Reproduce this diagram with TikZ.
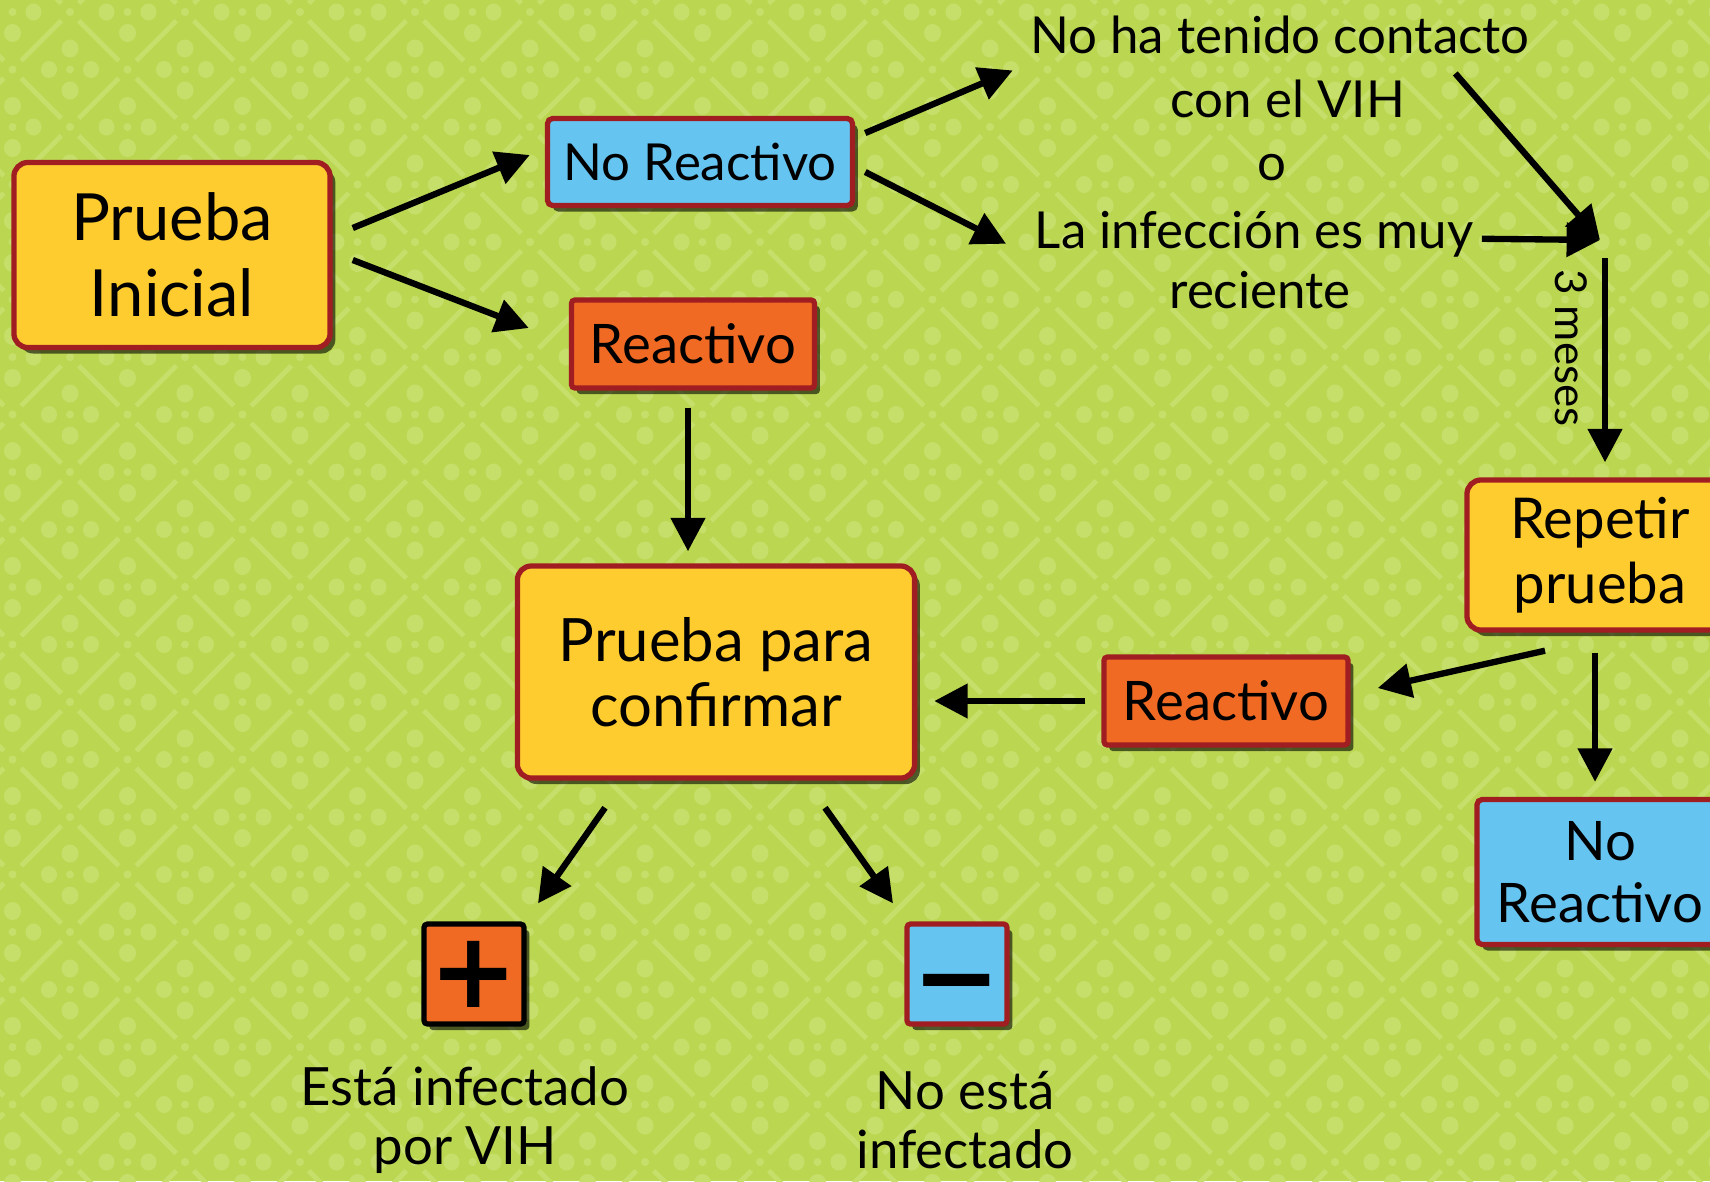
\documentclass[tikz,border=0pt]{standalone}
\usepackage{fontspec}
\setmainfont{Lato}
\newfontfamily\simbolo{DejaVu Sans}
\usetikzlibrary{calc,positioning,arrows.meta,shadows}
\definecolor{fondo}{RGB}{187,215,82}
\definecolor{trama}{RGB}{198,223,106}
\definecolor{amarillo}{RGB}{255,204,48}
\definecolor{azul}{RGB}{102,196,240}
\definecolor{naranja}{RGB}{241,106,36}
\definecolor{borde}{RGB}{160,30,34}
\tikzset{
	>={Triangle[length=9.5pt,width=9.5pt]},
	caja/.style={
		rectangle,
		draw=borde, line width=1.5pt,
		inner sep=0pt,
		align=center,
		drop shadow={shadow xshift=1.5pt, shadow yshift=-1.7pt, fill=black, opacity=.6}},
	grande/.style={caja, fill=amarillo, rounded corners=4pt},
	azulcaja/.style={caja, fill=azul, rounded corners=1.5pt},
	naranjacaja/.style={caja, fill=naranja, rounded corners=1pt},
	signo/.style={caja, minimum width=1cm, minimum height=1cm, rounded corners=1pt,
		font=\simbolo\bfseries\fontsize{30}{30}\selectfont},
	texto/.style={inner sep=0pt, anchor=base, font=\fontsize{14.5}{18}\selectfont},
	pie/.style={inner sep=0pt, align=center, font=\fontsize{15}{17}\selectfont},
	flecha/.style={draw, line width=1.8pt, ->},
}

\begin{document}
\begin{tikzpicture}[x=0.01cm, y=-0.01cm]
\useasboundingbox (0,0) rectangle (1710,1181);
\clip (0,0) rectangle (1710,1181);
\fill[fondo] (0,0) rectangle (1710,1181);
% trama de fondo
\foreach \k in {-5,...,17}{
	\pgfmathsetmacro{\yy}{932-57.5*\k}
	\pgfmathsetmacro{\xo}{mod(\k+10,2)*57.5}
	\foreach \i in {-1,...,15}{
		\pgfmathsetmacro{\xx}{70+115*\i+\xo}
		\fill[trama] (\xx,\yy) circle (4);
		\draw[trama, line width=1.4pt, shorten <=3.5pt, shorten >=3.5pt]
			(\xx,\yy) -- ++(57.5,57.5);
		\draw[trama, line width=1.4pt, shorten <=3.5pt, shorten >=3.5pt]
			(\xx,\yy) -- ++(57.5,-57.5);
		\fill[trama] (\xx+57.5,\yy) circle (4)
			(\xx+57.5,\yy-21) ellipse (8.5 and 9)
			(\xx+57.5,\yy+21) ellipse (8.5 and 9)
			(\xx+36.5,\yy) ellipse (8 and 8.5)
			(\xx+78.5,\yy) ellipse (8 and 8.5);
	}
}

\node[grande, minimum width=3.16cm, minimum height=1.85cm, font=\fontsize{18.5}{21.5}\selectfont]
	(ini) at (172,255) {Prueba\\Inicial};
\node[azulcaja, minimum width=3.05cm, minimum height=0.87cm, font=\fontsize{14.5}{17}\selectfont]
	(nr1) at (700,162) {No Reactivo};
\node[naranjacaja, minimum width=2.43cm, minimum height=0.88cm, font=\fontsize{15.5}{17}\selectfont]
	(rea1) at (693,344) {Reactivo};
\node[grande, minimum width=3.97cm, minimum height=2.12cm, font=\fontsize{17}{18.5}\selectfont]
	(conf) at (716,672) {Prueba para\\confirmar};
\node[naranjacaja, minimum width=2.44cm, minimum height=0.88cm, font=\fontsize{15.5}{17}\selectfont]
	(rea2) at (1226,701) {Reactivo};
\node[grande, minimum width=2.66cm, minimum height=1.5cm, font=\fontsize{16}{18.5}\selectfont]
	(rep) at (1600,555) {Repetir\\prueba};
\node[azulcaja, minimum width=2.46cm, minimum height=1.45cm, font=\fontsize{15.5}{17.5}\selectfont]
	(nr2) at (1600,872) {No\\Reactivo};
\node[signo, fill=naranja, draw=black] (mas) at (474,974) {+};
\node[signo, fill=azul] (menos) at (957,974) {\raisebox{-0.37em}[0.15em][0.15em]{−}};

\node[texto] (t1) at (1280,53) {No ha tenido contacto};
\node[texto] (t2) at (1288,117) {con el VIH};
\node[texto] (t3) at (1272,180) {o};
\node[texto] (t4) at (1254,248) {La infección es muy};
\node[texto] (t5) at (1260,308) {reciente};
\coordinate (junta) at (1600,240);

\node[pie] (si) at (465,1120) {Está infectado\\por VIH};
\node[pie] (no) at (965,1120) {No está\\infectado};

\draw[flecha] ($(ini.east)+(20,-27)$) -- ($(nr1.west)+(-15,-7)$);
\draw[flecha] ($(ini.east)+(20,5)$) -- ($(rea1.west)+(-40,-16)$);
\draw[flecha] ($(nr1.east)+(10,-29)$) -- ($(t1.west)+(-17,36)$);
\draw[flecha] ($(nr1.east)+(10,10)$) -- ($(t4.west)+(-28,10)$);
\draw[flecha] ($(t1.east)+(-75,39)$) -- (junta);
\draw[flecha] ($(t4.east)+(8,5)$) -- (junta);
\draw[flecha] ($(junta)+(5,18)$) -- node[pos=.44, rotate=-90, anchor=north, inner sep=4pt, font=\fontsize{12.5}{13}\selectfont] {3 meses} ($(rep.north)+(5,-15)$);
\draw[flecha] ($(rea1.south)+(-5,17)$) -- ($(conf.north)+(-28,-12)$);
\draw[flecha] ($(rep.south)+(-55,18)$) -- ($(rea2.east)+(27,-13)$);
\draw[flecha] ($(rea2.west)+(-16,0)$) -- ($(conf.east)+(17,29)$);
\draw[flecha] ($(rep.south)+(-5,20)$) -- ($(nr2.north)+(-5,-15)$);
\draw[flecha] ($(conf.south)+(-111,27)$) -- ($(mas.north)+(64,-18)$);
\draw[flecha] ($(conf.south)+(109,27)$) -- ($(menos.north)+(-64,-18)$);
\end{tikzpicture}
\end{document}
